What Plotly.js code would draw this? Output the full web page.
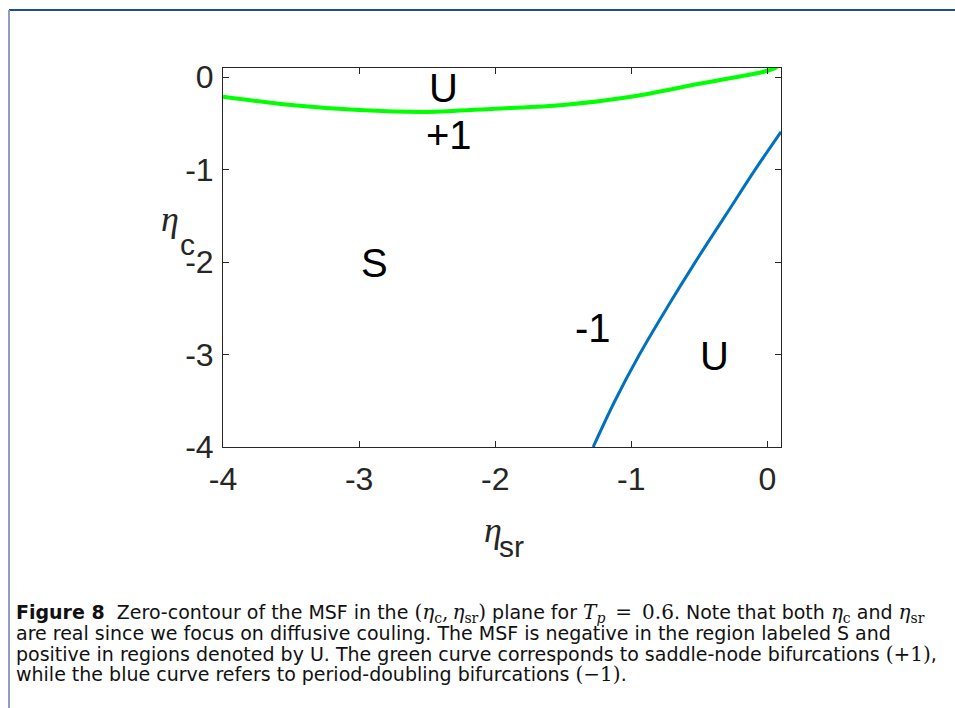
<!DOCTYPE html>
<html>
<head>
<meta charset="utf-8">
<script src="https://cdn.plot.ly/plotly-3.0.1.min.js"></script>
<style>
html,body{margin:0;padding:0;background:#fff;}
#chart{width:955px;height:708px;}
</style>
</head>
<body>
<div id="chart"></div>
<script>
// Green curve: saddle-node bifurcations (+1)
var greenX = [-4, -3.5, -3, -2.5, -2, -1.5, -1, -0.5, 0, 0.07];
var greenY = [-0.21, -0.30, -0.355, -0.375, -0.34, -0.30, -0.21, -0.07, 0.07, 0.11];
// Blue curve: period-doubling bifurcations (-1)
var blueX = [-1.28, -1.12, -0.94, -0.74, -0.53, -0.31, -0.09, 0.1];
var blueY = [-4, -3.5, -3, -2.5, -2, -1.5, -1, -0.59];
// Region labels
var labelText = ["U", "+1", "S", "-1", "U"];
var labelX = [-2.38, -2.34, -2.89, -1.28, -0.39];
var labelY = [-0.12, -0.63, -2.01, -2.71, -3.02];
// Ticks
var xTicks = [-4, -3, -2, -1, 0];
var yTicks = [-4, -3, -2, -1, 0];
var SER = '<span style="font-family:DejaVu Serif;font-size:20px">';
var captionLines = [
  "<b>Figure 8</b>  Zero-contour of the MSF in the " + SER + "(<i>η</i><sub>c</sub>,\u2009<i>η</i><sub>sr</sub>)</span> plane for " + SER + "<i>T<sub>p</sub></i>\u2002=\u20020.6</span>. Note that both " + SER + "<i>η</i><sub>c</sub></span> and " + SER + "<i>η</i><sub>sr</sub></span>",
  "are real since we focus on diffusive couling. The MSF is negative in the region labeled S and",
  "positive in regions denoted by U. The green curve corresponds to saddle-node bifurcations " + SER + "(+1)</span>,",
  "while the blue curve refers to period-doubling bifurcations " + SER + "(−1)</span>."
];

var L = 223, R = 781, T = 68, B = 447, W = 955, H = 708;
function px(x){ return (x - L) / (R - L); }
function py(y){ return (B - y) / (B - T); }

var traces = [
  {x: greenX, y: greenY, mode: 'lines', line: {color: '#00ff00', width: 4, shape: 'spline', smoothing: 1}, hoverinfo: 'skip', cliponaxis: false},
  {x: blueX, y: blueY, mode: 'lines', line: {color: '#0072bd', width: 3, shape: 'spline', smoothing: 1}, hoverinfo: 'skip', cliponaxis: false}
];

var SANS = 'Liberation Sans, Arial, sans-serif';
var annotations = [];
for (var i = 0; i < labelText.length; i++) {
  annotations.push({x: labelX[i], y: labelY[i], xref: 'x', yref: 'y', text: labelText[i], showarrow: false,
    font: {family: SANS, size: 40, color: '#000'}});
}
// axis titles (eta glyph + subscript as separate texts)
function pa(x, y, text, fam, size) {
  annotations.push({xref: 'paper', yref: 'paper', x: px(x), y: py(y), xanchor: 'center', yanchor: 'middle',
    showarrow: false, text: text, font: {family: fam, size: size, color: '#262626'}});
}
pa(170, 219, '<i>η</i>', 'Liberation Serif, serif', 36);
pa(187, 244, 'c', SANS, 30);
pa(493, 530, '<i>η</i>', 'Liberation Serif, serif', 36);
pa(511, 546, 'sr', SANS, 30);
// caption
for (var j = 0; j < captionLines.length; j++) {
  annotations.push({xref: 'paper', yref: 'paper', x: px(14), y: py(613 + 20.3 * j), xanchor: 'left', yanchor: 'middle',
    showarrow: false, align: 'left', text: captionLines[j],
    font: {family: 'DejaVu Sans, sans-serif', size: 19, color: '#111'}});
}

var axisCommon = {range: [-4, 0.1], ticks: 'inside', ticklen: 6,
  tickcolor: '#262626', showline: true, linecolor: '#262626', linewidth: 1, mirror: 'ticks',
  showgrid: false, zeroline: false, tickfont: {family: SANS, size: 32, color: '#262626'}};

var layout = {
  width: W, height: H,
  margin: {l: L, r: W - R, t: T, b: H - B, pad: 0},
  paper_bgcolor: '#fff', plot_bgcolor: '#fff',
  showlegend: false,
  xaxis: Object.assign({}, axisCommon, {tickvals: xTicks, ticktext: xTicks.map(String), ticklabelstandoff: 4}),
  yaxis: Object.assign({}, axisCommon, {tickvals: yTicks, ticktext: yTicks.map(String), ticklabelstandoff: 2}),
  annotations: annotations,
  shapes: [
    {type: 'line', xref: 'paper', yref: 'paper', x0: px(9), x1: px(955), y0: py(10), y1: py(10), line: {color: '#1f4e8c', width: 2}},
    {type: 'line', xref: 'paper', yref: 'paper', x0: px(9), x1: px(9), y0: py(10), y1: py(708), line: {color: '#8ea0bf', width: 2}}
  ]
};

Plotly.newPlot('chart', traces, layout, {staticPlot: true, displayModeBar: false});
</script>
</body>
</html>
